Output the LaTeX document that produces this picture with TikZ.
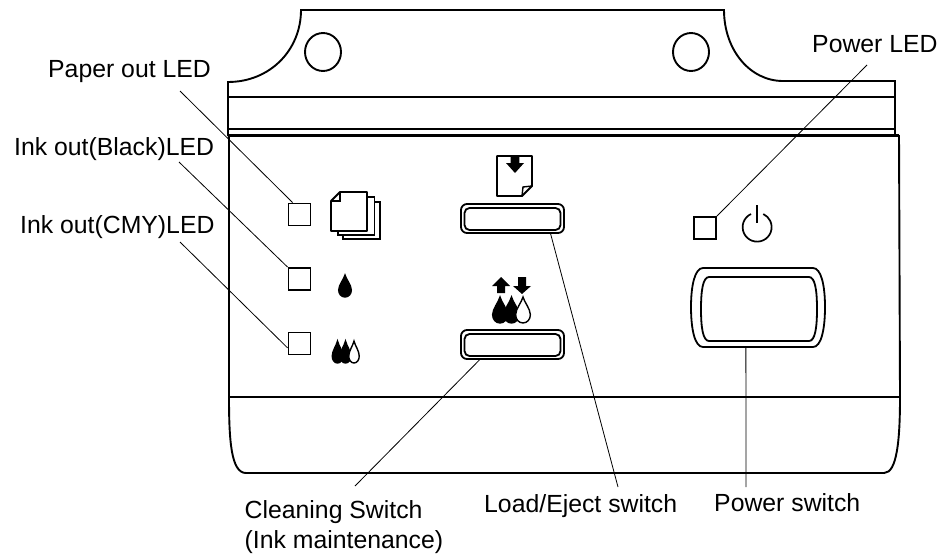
\documentclass[tikz,border=0pt]{standalone}
\usepackage{fontspec}
\setmainfont{Liberation Sans}
\tikzset{
    heavy/.style={line width=1.9pt},
    leader/.style={line width=0.8pt},
    ledbox/.style={draw, line width=1.9pt, minimum width=22pt, minimum height=22pt, inner sep=0pt},
    switchbox/.style={draw, line width=1.8pt, rounded corners=6pt, inner sep=0pt},
    caption/.style={anchor=base west, inner sep=0pt, font=\fontsize{24.8}{30}\selectfont}
}
\begin{document}
\begin{tikzpicture}[x=1pt, y=-1pt]
    \useasboundingbox (0, 0) rectangle (944, 557);

    % upper flange
    \draw[heavy] (228, 136) to (228, 82) .. controls (270, 82) and (301, 50) .. (301, 10) to (724, 10)
        .. controls (724, 50) and (750, 81) .. (783, 81) to (895, 81) to (895, 135);
    \draw[line width=2.2pt] (228, 97) to (895, 97);
    \draw[heavy] (228, 129) to (895, 129);
    \draw[line width=2.8pt] (228, 135.5) to (899, 135.5);
    \foreach \x in {323, 691}{
            \draw[heavy] (\x, 52) circle[x radius=18, y radius=19];
        }

    % panel
    \draw[heavy] (229, 135) to (229, 397) .. controls (229, 440) and (231, 473) .. (246, 473) to (884, 473)
        .. controls (897, 473) and (900, 440) .. (900, 397) to (899, 135);
    \draw[heavy] (229, 397) to (900, 397);

    % leds and switches
    \node[ledbox] (ledpaper) at (299.5, 214.5) {};
    \node[ledbox] (ledblack) at (299.5, 279) {};
    \node[ledbox] (ledcmy) at (299.5, 343.5) {};
    \node[ledbox] (ledpower) at (705, 228) {};

    \node[switchbox, minimum width=103pt, minimum height=29pt] (loadouter) at (512.5, 218.5) {};
    \node[switchbox, minimum width=96pt, minimum height=22pt, rounded corners=5pt] (loadinner) at (512.5, 219) {};
    \node[switchbox, minimum width=103pt, minimum height=29pt] (cleanouter) at (512.5, 344.5) {};
    \node[switchbox, minimum width=96pt, minimum height=22pt, rounded corners=5pt] (cleaninner) at (512.5, 345) {};
    \node[minimum width=134pt, minimum height=79pt, inner sep=0pt] (powerouter) at (758, 307.5) {};
    \draw[line width=1.8pt] (703, 268) to (813, 268) .. controls (821, 268) and (825, 285) .. (825, 307)
        .. controls (825, 330) and (821, 347) .. (813, 347) to (703, 347)
        .. controls (695, 347) and (691, 330) .. (691, 307) .. controls (691, 285) and (695, 268) .. (703, 268) -- cycle;
    \draw[line width=1.8pt] (709, 277) to (809, 277) .. controls (815, 277) and (817, 290) .. (817, 309)
        .. controls (817, 328) and (815, 341) .. (809, 341) to (709, 341)
        .. controls (703, 341) and (701, 328) .. (701, 309) .. controls (701, 290) and (703, 277) .. (709, 277) -- cycle;

    % paper icon
    \draw[heavy, line join=round] (331, 201) to (340, 192) to (367, 192) to (367, 231) to (331, 231) to cycle;
    \draw[line width=1.4pt] (331, 201) to (340, 201) to (340, 192);
    \draw[heavy] (367, 197) to (374.5, 197) to (374.5, 235) to (338, 235) to (338, 231);
    \draw[heavy] (374.5, 202) to (380, 202) to (380, 239) to (343, 239) to (343, 235);

    % load icon
    \draw[heavy, line join=round] (497, 156) to (532, 156) to (532, 186) to (522, 196) to (497, 196) to cycle;
    \draw[line width=1.4pt] (522, 196) to (523, 187) to (532, 186);
    \fill (510.7, 156) to (519.3, 156) to (519.3, 163) to (524, 163) to (515, 173) to (506, 163) to (510.7, 163) to cycle;

    % ink icons
    \fill (497, 293) to (505, 293) to (505, 286) to (510, 286) to (501, 277) to (492, 286) to (497, 286) to cycle;
    \fill (518, 277) to (526, 277) to (526, 286) to (531, 286) to (522, 294) to (513, 286) to (518, 286) to cycle;
    \foreach \x/\y/\s/\t/\c in {345/275/.9/1/black, 337.5/341/.75/1/black, 345.5/341/.75/1/black, 354/341/.75/1/white, 500/297/1.05/1.18/black, 511.5/297/1.05/1.18/black, 523/297/1.05/1.18/white}{
            \draw[line width=1.4pt, fill=\c, shift={(\x, \y)}, xscale=\s, yscale=\t] (0, 0) .. controls (1, 4) and (7, 10) .. (7, 15)
                .. controls (7, 19) and (4, 22) .. (0, 22) .. controls (-4, 22) and (-7, 19) .. (-7, 15)
                .. controls (-7, 10) and (-1, 4) .. (0, 0) -- cycle;
        }

    % power icon
    \draw[line width=1.7pt] (751, 214) arc[start angle=245, end angle=-65, radius=14.5];
    \draw[line width=1.7pt] (757, 205) to (757, 223);

    % labels
    \node[caption] (paperlabel) at (48, 77) {Paper out LED};
    \node[caption] (blacklabel) at (14, 155) {Ink out(Black)LED};
    \node[caption] (cmylabel) at (20, 233) {Ink out(CMY)LED};
    \node[caption] (powerledlabel) at (812, 52) {Power LED};
    \node[caption, align=left] (cleanlabel) at (244.5, 548) {Cleaning Switch\\(Ink maintenance)};
    \node[caption] (loadlabel) at (484, 512) {Load/Eject switch};
    \node[caption] (powerlabel) at (714, 511) {Power switch};

    \coordinate (paperend) at (180, 91);
    \coordinate (blackend) at (179, 162);
    \coordinate (cmyend) at (180, 242);
    \coordinate (powerledend) at (867, 65);
    \coordinate (cleanend) at (355, 486);
    \coordinate (loadend) at (618, 487);
    \coordinate (powerend) at (746, 487);

    \draw[leader] (paperend) to (ledpaper.120);
    \draw[leader] (blackend) to (ledblack.north west);
    \draw[leader] (cmyend) to (ledcmy.200);
    \draw[leader] (powerledend) to (ledpower.north east);
    \draw[leader] (cleanend) to (cleanouter.205.4);
    \draw[leader] (loadend) to (loadouter.-22.3);
    \draw[leader] (powerend) to (powerouter.253.1);
\end{tikzpicture}
\end{document}
